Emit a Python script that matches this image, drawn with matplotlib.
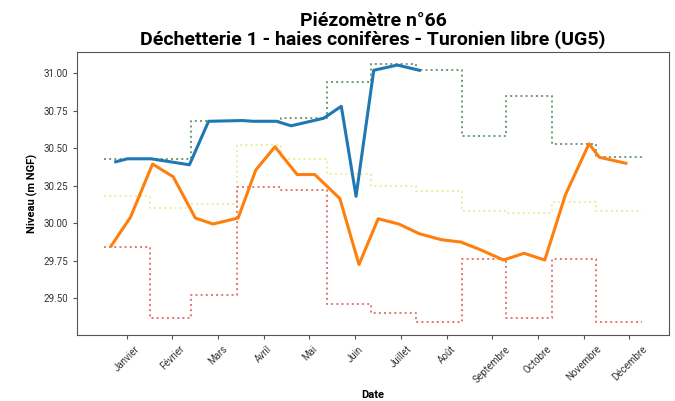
import matplotlib
matplotlib.use("Agg")
import matplotlib.pyplot as plt
import pandas as pd

YEAR = 2021

# Monthly statistics (step lines), one value per month Jan..Dec
months = ["01", "02", "03", "04", "05", "06", "07", "08", "09", "10", "11", "12"]
max_vals = [30.43, 30.43, 30.68, 30.68, 30.70, 30.94, 31.06, 31.02, 30.58, 30.85, 30.53, 30.44]
mean_vals = [30.18, 30.10, 30.13, 30.52, 30.43, 30.33, 30.25, 30.215, 30.085, 30.07, 30.145, 30.085]
min_vals = [29.84, 29.37, 29.52, 30.24, 30.225, 29.465, 29.405, 29.345, 29.76, 29.37, 29.76, 29.345]

# Series 1 (blue)
blue_dates = ["01-09", "01-17", "02-02", "02-28", "03-13", "04-05", "04-12", "04-28",
              "05-08", "05-30", "06-11", "06-21", "07-03", "07-19", "08-03"]
blue_vals = [30.41, 30.43, 30.43, 30.39, 30.68, 30.685, 30.68, 30.68,
             30.65, 30.70, 30.78, 30.18, 31.02, 31.055, 31.02]

# Series 2 (orange)
orange_dates = ["01-06", "01-19", "02-03", "02-17", "03-04", "03-16", "04-02", "04-14",
                "04-27", "05-12", "05-24", "06-10", "06-23", "07-06", "07-20", "08-03",
                "08-18", "08-31", "09-13", "09-29", "10-13", "10-27", "11-10", "11-26",
                "12-03", "12-21"]
orange_vals = [29.85, 30.04, 30.395, 30.31, 30.035, 29.995, 30.035, 30.355,
               30.51, 30.325, 30.325, 30.165, 29.725, 30.03, 29.995, 29.93,
               29.89, 29.875, 29.825, 29.755, 29.80, 29.755, 30.19, 30.53,
               30.44, 30.40]

month_labels = ["Janvier", "Février", "Mars", "Avril", "Mai", "Juin", "Juillet",
                "Août", "Septembre", "Octobre", "Novembre", "Décembre"]

def to_dates(md):
    return pd.to_datetime([f"{YEAR}-{d}" for d in md])

step_x = list(pd.to_datetime([f"{YEAR}-{m}-01" for m in months])) + [pd.Timestamp(f"{YEAR+1}-01-01")]

plt.rcParams['font.family'] = ['Roboto', 'DejaVu Sans']

fig = plt.figure(figsize=(6.75, 4.01), dpi=100)
ax = fig.add_axes([77/675, 1-335/401, (669-77)/675, (335-52)/401])

ax.plot(step_x, max_vals + [max_vals[-1]], drawstyle='steps-post', ls=':', lw=1.4, color='#3c7a3c', alpha=0.75)
ax.plot(step_x, mean_vals + [mean_vals[-1]], drawstyle='steps-post', ls=':', lw=1.4, color='#ece47a', alpha=0.75)
ax.plot(step_x, min_vals + [min_vals[-1]], drawstyle='steps-post', ls=':', lw=1.4, color='#d83a3a', alpha=0.7)

ax.plot(to_dates(blue_dates), blue_vals, color='#1f77b4', lw=2.2)
ax.plot(to_dates(orange_dates), orange_vals, color='#ff7f0e', lw=2.2)

start = pd.Timestamp(f"{YEAR}-01-01")
ax.set_xlim(start - pd.Timedelta(days=18.25), start + pd.Timedelta(days=383.25))
ax.set_ylim(29.255, 31.142)

ticks = [start + pd.Timedelta(days=15.4 + 31 * i) for i in range(12)]
ax.set_xticks(ticks)
ax.set_xticklabels(month_labels, rotation=45, ha='center', fontsize=7, color='#333333')
ax.set_yticks([29.50, 29.75, 30.00, 30.25, 30.50, 30.75, 31.00])
ax.yaxis.set_major_formatter(matplotlib.ticker.FormatStrFormatter('%.2f'))
ax.tick_params(axis='y', labelsize=7, labelcolor='#333333', length=3, color='#555555')
ax.tick_params(axis='x', length=3, color='#555555')
for s in ax.spines.values():
    s.set_color('#555555')

ax.set_xlabel("Date", fontsize=8, fontweight='bold', labelpad=4)
ax.set_ylabel("Niveau (m NGF)", fontsize=8, fontweight='bold', labelpad=4)
ax.set_title("Piézomètre n°66\nDéchetterie 1 - haies conifères - Turonien libre (UG5)",
             fontsize=14, fontweight='bold', pad=5, linespacing=1.05)

fig.savefig("out.png", dpi=100)
